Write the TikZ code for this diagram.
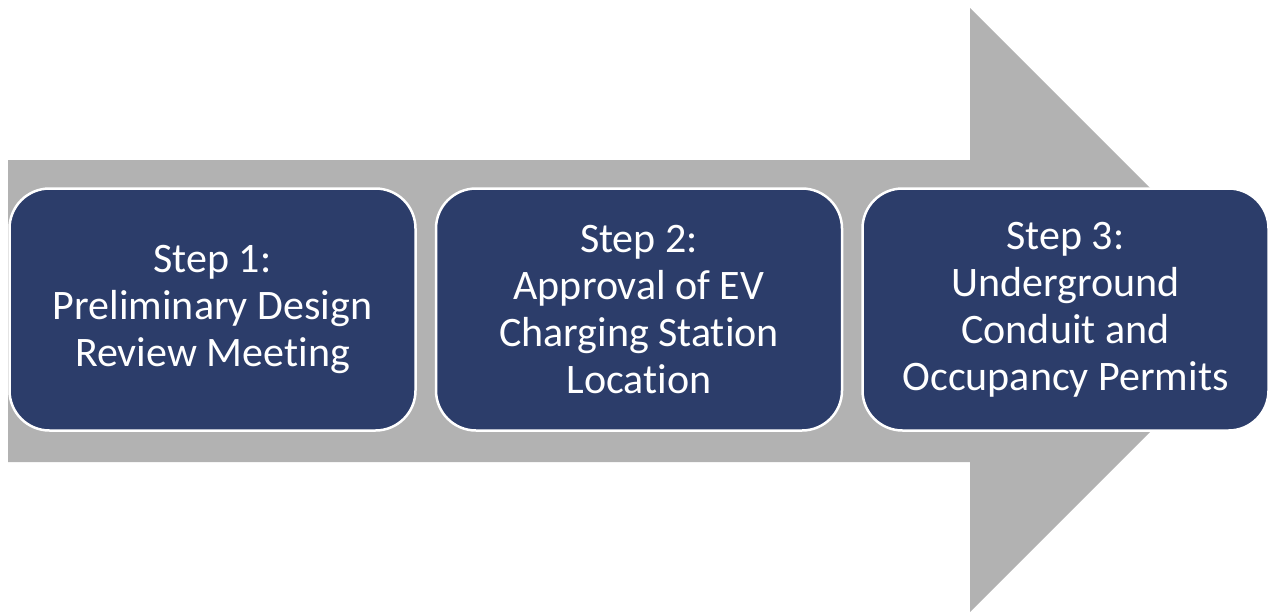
\documentclass[tikz,border=0pt]{standalone}
\usepackage{fontspec}
\setmainfont{Carlito}[Ligatures=NoCommon]
\usetikzlibrary{positioning}

\definecolor{stepblue}{HTML}{2C3D6A}
\definecolor{arrowgray}{HTML}{B2B2B2}

\tikzset{
  stepbox/.style={draw=white, line width=2.5pt, fill=stepblue,
    rounded corners=40pt, minimum width=406pt, minimum height=242pt,
    inner sep=0pt, align=center, text=white,
    font=\fontsize{42}{47}\selectfont}
}

\begin{document}
\begin{tikzpicture}[x=1pt,y=1pt]
    \useasboundingbox (0,0) rectangle (1268,-611);
    \clip (0,0) rectangle (1268,-611);
    % the big grey arrow behind the steps
    \fill [arrowgray] (8,-160) -- (970,-160) -- (970,-8) -- (1272,-310)
        -- (970,-612) -- (970,-462) -- (8,-462) -- cycle;
    % the three steps
    \node [stepbox] (step1) at (212.5,-309.5) {Step 1:\\Preliminary Design\\Review Meeting};
    \node [stepbox, right=18pt of step1] (step2) {Step 2:\\Approval of EV\\Charging Station\\Location};
    \node [stepbox, right=18pt of step2] (step3) {Step 3:\\Underground\\Conduit and\\Occupancy Permits};
\end{tikzpicture}
\end{document}
